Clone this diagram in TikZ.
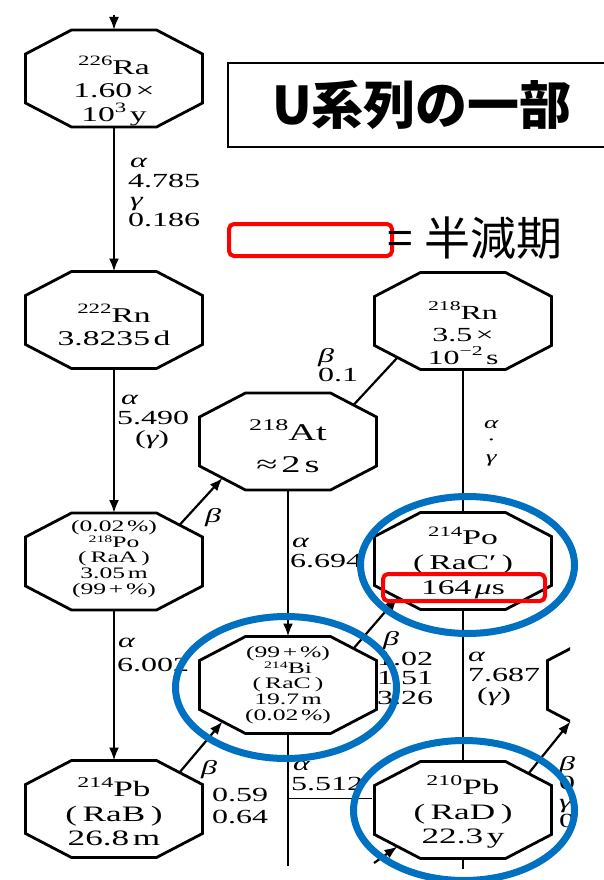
\documentclass[tikz,border=0pt]{standalone}
\usepackage{graphicx}
\usepackage{fontspec}
\setmainfont{Liberation Serif}[FakeStretch=1.6]
\newfontfamily\cjk{Noto Sans CJK JP}
\usetikzlibrary{arrows.meta,shapes.geometric}
\definecolor{hlblue}{RGB}{0,112,192}
\definecolor{hlred}{RGB}{255,0,0}
\newcommand\sups[1]{\raisebox{0.42em}{\scalebox{0.68}{#1}}}
\newcommand\lowsups[1]{\raisebox{0.3em}{\scalebox{0.62}{#1}}}
\newcommand\isot[2]{\sups{#1}#2}
\newcommand\fw[1]{(\hspace{0.25em}#1\hspace{0.25em})}
\newcommand\galpha{{\itshape α}}
\newcommand\ggamma{{\itshape γ}}
\newcommand\gbeta{{\itshape β}}
\newcommand\octnode[3]{%
  \node[octbox] (#1) at (#2,#3) {};
  \draw[octline] ([xshift=46pt]#1.north west) -- ([xshift=-46pt]#1.north east)
    -- ([yshift=-24pt]#1.north east) -- ([yshift=24pt]#1.south east)
    -- ([xshift=-46pt]#1.south east) -- ([xshift=46pt]#1.south west)
    -- ([yshift=24pt]#1.south west) -- ([yshift=-24pt]#1.north west) -- cycle;
  \coordinate (#1-ne) at ([xshift=-23pt,yshift=-12pt]#1.north east);
  \coordinate (#1-nw) at ([xshift=23pt,yshift=-12pt]#1.north west);
  \coordinate (#1-se) at ([xshift=-23pt,yshift=12pt]#1.south east);
  \coordinate (#1-sw) at ([xshift=23pt,yshift=12pt]#1.south west);
}
\begin{document}
\begin{tikzpicture}[x=1pt,y=-1pt,
  octbox/.style={rectangle, minimum width=177pt, minimum height=97pt, inner sep=0pt, outer sep=0pt},
  octline/.style={line width=2.8pt, line join=miter},
  otext/.style={align=center, inner sep=0pt, font=\fontsize{21}{23.5}\selectfont},
  obig/.style={align=center, inner sep=0pt, font=\fontsize{22}{24.5}\selectfont},
  osmall/.style={align=center, inner sep=0pt, font=\fontsize{16}{15.6}\selectfont},
  conn/.style={line width=2.2pt},
  arr/.style={conn, -{Latex[length=13pt,width=10pt]}},
  lab/.style={anchor=west, inner sep=0pt, align=left, font=\fontsize{20}{19.7}\selectfont},
  ring/.style={draw=hlblue, line width=7pt, ellipse, inner sep=0pt},
  half/.style={draw=hlred, line width=4pt, rounded corners=5pt, inner sep=0pt},
]
\clip (0,0) rectangle (604,880);
\fill[white] (0,0) rectangle (604,880);

% octagons
\octnode{ra226}{114}{78.5}
\octnode{rn222}{114}{320}
\octnode{po218}{114}{561.5}
\octnode{pb214}{114}{809}
\octnode{at218}{288}{441.5}
\octnode{bi214}{288}{685}
\octnode{rn218}{463}{321}
\octnode{po214}{463}{561}
\octnode{pb210}{463}{810}

% texts in octagons
\node[otext] (ra226t) at (114,91) {\isot{226}{Ra}\\1.60\,×\\10\sups{3}\,y};
\node[otext] (rn222t) at (114,325) {\isot{222}{Rn}\\3.8235\,d};
\node[osmall] (po218t) at (114,559) {(0.02\,\%)\\\lowsups{218}Po\\\fw{RaA}\\3.05\,m\\(99\,+\,\%)};
\node[obig] (pb214t) at (114,812) {\isot{214}{Pb}\\\fw{RaB}\\26.8\,m};
\node[align=center, inner sep=0pt, font=\fontsize{24}{32}\selectfont] (at218t) at (288,446) {\isot{218}{At}\\≈\,2\,s};
\node[osmall] (bi214t) at (288,685) {(99\,+\,\%)\\\lowsups{214}Bi\\\fw{RaC}\\19.7\,m\\(0.02\,\%)};
\node[align=center, inner sep=0pt, font=\fontsize{20}{22.5}\selectfont] (rn218t) at (463,333) {\isot{218}{Rn}\\3.5\,×\\10\sups{−2}\,s};
\node[align=center, inner sep=0pt, font=\fontsize{21}{25}\selectfont] (po214t) at (463,563) {\isot{214}{Po}\\\fw{RaC′}\\164\,{\itshape μ}s};
\node[obig] (pb210t) at (463,812) {\isot{210}{Pb}\\\fw{RaD}\\22.3\,y};

% connectors
\coordinate (topin) at (114,15);
\draw[arr] (topin) -- (ra226);
\draw[arr] (ra226) -- (rn222);
\draw[arr] (rn222) -- (po218);
\draw[arr] (po218) -- (pb214);
\draw[arr] (po218-ne) -- (at218-sw);
\draw[conn] (rn218-sw) -- (at218-ne);
\draw[arr] (at218) -- (bi214);
\draw[conn] (rn218) -- (po214);
\draw[arr] (pb214-ne) -- (bi214-sw);
\draw[arr] (bi214-ne) -- (po214-sw);
\draw[conn] (po214) -- (pb210);
\coordinate (bidown) at (288,866);
\draw[conn] (bi214) -- (bidown);
\coordinate (pbdown) at (463,869);
\draw[conn] (pb210) -- (pbdown);
\coordinate (pbin) at (374,863);
\draw[arr] (pbin) -- (pb210-sw);

% partial node at right edge
\begin{scope}
\clip (0,600) rectangle (570,880);
\octnode{po210}{636}{685}
\draw[arr] (pb210-ne) -- (po210-sw);
\end{scope}
\node[lab, font=\fontsize{20}{19}\selectfont] (lp) at (559,792) {\gbeta\\0\\\ggamma\\0};

% labels
\node[lab] (l1) at (128,192.5) {\hspace{2pt}\galpha\\4.785\\\hspace{2pt}\ggamma\\0.186};
\node[lab] (l5) at (117,422) {\hspace{4pt}\galpha\\5.490\\\hspace{18pt}(\ggamma)};
\node[lab] (l8) at (118,643) {\galpha};
\node[lab] (l9) at (117,665) {6.002};
\node[lab] (l10) at (205,518) {\gbeta};
\node[lab] (l11) at (318,365) {\gbeta\\0.1};
\node[lab] (l13) at (290,553) {\hspace{2pt}\galpha\\6.694};
\node[lab, align=center, font=\fontsize{17}{17}\selectfont] (l15) at (484,443) {\galpha\\·\\\ggamma};
\node[lab] (l18) at (201,770) {\gbeta};
\node[lab] (l19) at (212,806) {0.59\\[1.5pt]0.64};
\node[lab] (l21) at (377,668) {\hspace{6pt}\gbeta\\1.02\\1.51\\3.26};
\node[lab] (l25) at (468,679) {\galpha\\7.687\\\hspace{9pt}(\ggamma)};
\node[lab] (l28) at (291,776) {\hspace{2pt}\galpha\\5.512};
\coordinate (ul1) at (288,798);
\coordinate (ul2) at (372,798);
\draw[line width=0.8pt] (ul1) -- (ul2);

% title
\node[draw, line width=2pt, minimum width=388pt, minimum height=84pt, inner sep=0pt,
  font=\cjk\bfseries\fontsize{52}{52}\selectfont] (title) at (422,105) {U系列の一部};

% legend
\node[half, minimum width=163pt, minimum height=32pt] (legbox) at (310.5,240) {};
\node[anchor=west, inner sep=0pt, font=\cjk\fontsize{46}{46}\selectfont] (legtext) at (387,238) {=\hspace{0.25em}半減期};

% highlights
\node[ring, minimum width=214pt, minimum height=137pt] (ring1) at (467.5,565) {};
\node[ring, minimum width=221pt, minimum height=142pt] (ring2) at (286,687.5) {};
\node[ring, minimum width=221pt, minimum height=140pt] (ring3) at (464,810.5) {};
\node[half, minimum width=162pt, minimum height=27pt] (hl) at (464,587.5) {};
\end{tikzpicture}
\end{document}
